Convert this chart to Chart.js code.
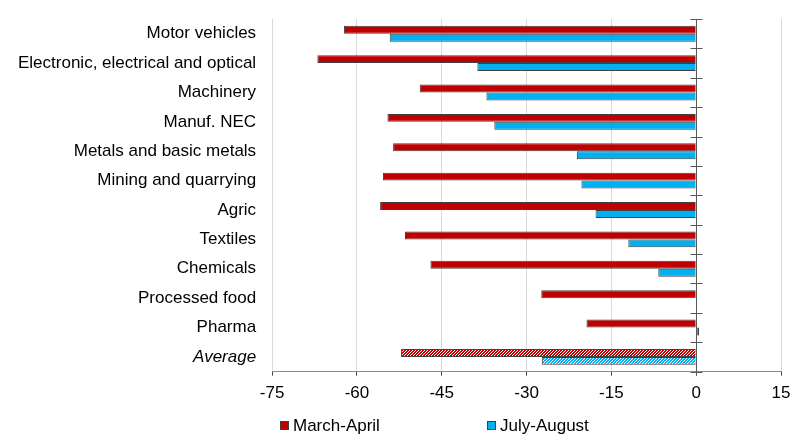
<!DOCTYPE html>
<html>
<head>
<meta charset="utf-8">
<script src="https://cdn.jsdelivr.net/npm/chart.js@4"></script>
<style>
  body { margin: 0; background: #fff; }
  #wrap { position: relative; width: 804px; height: 444px; }
  .legenda { position: absolute; top: 416px; font: 17px "Liberation Sans", Arial, sans-serif; color: #000; white-space: nowrap; }
  .legenda span.caixa { position: absolute; top: 5px; width: 7px; height: 7px; border: 1px solid #404040; }
  .legenda span.texto { position: absolute; left: 13px; top: 0; }
</style>
</head>
<body>
<div id="wrap">
  <canvas id="grafico" width="804" height="444"></canvas>
  <div class="legenda" style="left:280px"><span class="caixa" style="background:#C00000"></span><span class="texto">March-April</span></div>
  <div class="legenda" style="left:487px"><span class="caixa" style="background:#00B0F0"></span><span class="texto">July-August</span></div>
</div>
<script>
// Dados
const setores = ['Motor vehicles', 'Electronic, electrical and optical', 'Machinery', 'Manuf. NEC',
    'Metals and basic metals', 'Mining and quarrying', 'Agric', 'Textiles', 'Chemicals',
    'Processed food', 'Pharma', 'Average'];
const marcoAbril = [-62.3, -67.0, -48.9, -54.6, -53.6, -55.4, -55.9, -51.5, -47.0, -27.4, -19.4, -52.2];
const julhoAgosto = [-54.2, -38.7, -37.1, -35.7, -21.1, -20.3, -17.8, -12.0, -6.7, null, 0.5, -27.3];
const eixoX = { min: -75, max: 15, passo: 15 };

const vermelho = '#C00000';
const azul = '#00B0F0';

// Padrão hachurado para a média
function hachura(cor) {
    const c = document.createElement('canvas');
    c.width = 3; c.height = 3;
    const g = c.getContext('2d');
    g.fillStyle = cor;
    g.fillRect(0, 0, 3, 3);
    g.fillStyle = '#fff';
    for (let x = 0; x < 3; x++) {
        for (let y = 0; y < 3; y++) {
            if ((x + y) % 3 === 0) g.fillRect(x, y, 1, 1);
        }
    }
    return g.createPattern(c, 'repeat');
}

const coresMA = setores.map(s => s === 'Average' ? hachura(vermelho) : vermelho);
const coresJA = setores.map(s => s === 'Average' ? hachura(azul) : azul);

// Linha do zero com marcas entre categorias
const linhaZero = {
    id: 'linhaZero',
    afterDatasetsDraw(chart) {
        const { ctx, chartArea, scales } = chart;
        const x0 = Math.round(scales.x.getPixelForValue(0)) + 0.5;
        const passo = (chartArea.bottom - chartArea.top) / setores.length;
        ctx.save();
        ctx.strokeStyle = '#595959';
        ctx.lineWidth = 1;
        ctx.beginPath();
        ctx.moveTo(x0, chartArea.top);
        ctx.lineTo(x0, chartArea.bottom + 4);
        for (let i = 0; i <= setores.length; i++) {
            const y = Math.round(chartArea.top + i * passo) + 0.5;
            ctx.moveTo(x0 - 6, y);
            ctx.lineTo(x0 + 6, y);
        }
        ctx.stroke();
        ctx.restore();
    }
};

Chart.defaults.font.family = '"Liberation Sans", Arial, sans-serif';
Chart.defaults.font.size = 17;
Chart.defaults.color = '#000';

new Chart(document.getElementById('grafico').getContext('2d'), {
    type: 'bar',
    data: {
        labels: setores,
        datasets: [{
            label: 'March-April',
            data: marcoAbril,
            backgroundColor: coresMA,
            borderColor: '#404040',
            borderWidth: 1,
        }, {
            label: 'July-August',
            data: julhoAgosto,
            backgroundColor: coresJA,
            borderColor: '#404040',
            borderWidth: 1,
        }]
    },
    options: {
        indexAxis: 'y',
        responsive: false,
        animation: false,
        layout: { padding: { top: 19, left: 18, right: 23, bottom: 32 } },
        datasets: { bar: { categoryPercentage: 0.54, barPercentage: 1 } },
        plugins: { legend: { display: false }, tooltip: { enabled: false } },
        scales: {
            x: {
                min: eixoX.min,
                max: eixoX.max,
                ticks: { stepSize: eixoX.passo, padding: 8 },
                grid: { color: '#d9d9d9', tickColor: '#404040', tickLength: 4 },
                border: { color: '#8c8c8c' },
            },
            y: {
                // marcas invisíveis só para afastar os rótulos da área
                grid: { display: false, drawTicks: true, tickLength: 16 },
                border: { display: false },
                ticks: {
                    padding: 0,
                    font: ctx => ({ style: ctx.index === setores.length - 1 ? 'italic' : 'normal' }),
                },
            },
        },
    },
    plugins: [linhaZero],
});
</script>
</body>
</html>
